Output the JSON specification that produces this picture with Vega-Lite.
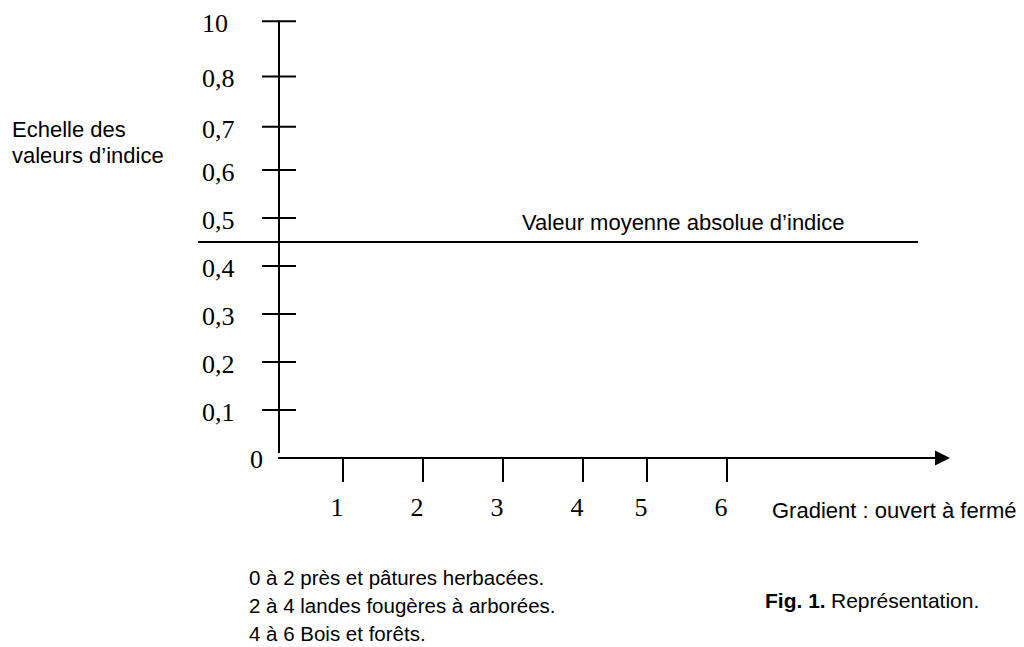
{
  "$schema": "https://vega.github.io/schema/vega-lite/v6.json",
  "width": 1024,
  "height": 647,
  "autosize": "none",
  "padding": 0,
  "background": "white",
  "config": {"view": {"stroke": null}},
  "layer": [
    {
      "data": {"values": [{"x": 0, "y": 0.0104, "y2": 0.9104}]},
      "mark": {"type": "rule", "color": "black", "strokeWidth": 2},
      "encoding": {
        "x": {"field": "x", "type": "quantitative", "scale": {"domain": [-3.4875, 9.3125], "nice": false, "zero": false}, "axis": null},
        "y": {"field": "y", "type": "quantitative", "scale": {"domain": [-0.39375, 0.95417], "nice": false, "zero": false}, "axis": null},
        "y2": {"field": "y2"}
      }
    },
    {
      "data": {"values": [{"x": -0.0125, "x2": 8.2, "y": 0}]},
      "mark": {"type": "rule", "color": "black", "strokeWidth": 2},
      "encoding": {
        "x": {"field": "x", "type": "quantitative", "scale": {"domain": [-3.4875, 9.3125], "nice": false, "zero": false}, "axis": null},
        "x2": {"field": "x2"},
        "y": {"field": "y", "type": "quantitative", "scale": {"domain": [-0.39375, 0.95417], "nice": false, "zero": false}, "axis": null}
      }
    },
    {
      "data": {"values": [{"x": 8.29375, "y": 0}]},
      "mark": {"type": "point", "shape": "M-1,-1L1,0L-1,1Z", "size": 225, "filled": true, "color": "black", "opacity": 1, "strokeWidth": 0},
      "encoding": {
        "x": {"field": "x", "type": "quantitative", "scale": {"domain": [-3.4875, 9.3125], "nice": false, "zero": false}, "axis": null},
        "y": {"field": "y", "type": "quantitative", "scale": {"domain": [-0.39375, 0.95417], "nice": false, "zero": false}, "axis": null}
      }
    },
    {
      "data": {"values": [{"x": -1.0125, "x2": 7.9875, "y": 0.45}]},
      "mark": {"type": "rule", "color": "black", "strokeWidth": 2},
      "encoding": {
        "x": {"field": "x", "type": "quantitative", "scale": {"domain": [-3.4875, 9.3125], "nice": false, "zero": false}, "axis": null},
        "x2": {"field": "x2"},
        "y": {"field": "y", "type": "quantitative", "scale": {"domain": [-0.39375, 0.95417], "nice": false, "zero": false}, "axis": null}
      }
    },
    {
      "data": {"values": [
        {"v": 0.1, "label": "0,1"},
        {"v": 0.2, "label": "0,2"},
        {"v": 0.3, "label": "0,3"},
        {"v": 0.4, "label": "0,4"},
        {"v": 0.5, "label": "0,5"},
        {"v": 0.6, "label": "0,6"},
        {"v": 0.69, "label": "0,7"},
        {"v": 0.795, "label": "0,8"},
        {"v": 0.91, "label": "10"}
      ]},
      "layer": [
        {
          "mark": {"type": "rule", "color": "black", "strokeWidth": 2},
          "encoding": {
            "x": {"datum": -0.2125, "type": "quantitative", "scale": {"domain": [-3.4875, 9.3125], "nice": false, "zero": false}, "axis": null},
            "x2": {"datum": 0.2125},
            "y": {"field": "v", "type": "quantitative", "scale": {"domain": [-0.39375, 0.95417], "nice": false, "zero": false}, "axis": null}
          }
        },
        {
          "mark": {"type": "text", "font": "Liberation Serif", "fontSize": 26, "color": "black", "align": "left", "baseline": "alphabetic", "dy": 11},
          "encoding": {
            "x": {"datum": -0.9625, "type": "quantitative", "scale": {"domain": [-3.4875, 9.3125], "nice": false, "zero": false}, "axis": null},
            "y": {"field": "v", "type": "quantitative", "scale": {"domain": [-0.39375, 0.95417], "nice": false, "zero": false}, "axis": null},
            "text": {"field": "label"}
          }
        }
      ]
    },
    {
      "data": {"values": [{"x": -0.3625, "y": 0, "label": "0"}]},
      "mark": {"type": "text", "font": "Liberation Serif", "fontSize": 26, "color": "black", "align": "left", "baseline": "alphabetic", "dy": 10},
      "encoding": {
        "x": {"field": "x", "type": "quantitative", "scale": {"domain": [-3.4875, 9.3125], "nice": false, "zero": false}, "axis": null},
        "y": {"field": "y", "type": "quantitative", "scale": {"domain": [-0.39375, 0.95417], "nice": false, "zero": false}, "axis": null},
        "text": {"field": "label"}
      }
    },
    {
      "data": {"values": [
        {"g": 0.8, "label": "1"},
        {"g": 1.8, "label": "2"},
        {"g": 2.8, "label": "3"},
        {"g": 3.8, "label": "4"},
        {"g": 4.6, "label": "5"},
        {"g": 5.6, "label": "6"}
      ]},
      "layer": [
        {
          "mark": {"type": "rule", "color": "black", "strokeWidth": 2},
          "encoding": {
            "x": {"field": "g", "type": "quantitative", "scale": {"domain": [-3.4875, 9.3125], "nice": false, "zero": false}, "axis": null},
            "y": {"datum": 0, "type": "quantitative", "scale": {"domain": [-0.39375, 0.95417], "nice": false, "zero": false}, "axis": null},
            "y2": {"datum": -0.05}
          }
        },
        {
          "mark": {"type": "text", "font": "Liberation Serif", "fontSize": 26, "color": "black", "align": "center", "baseline": "alphabetic", "dx": -6},
          "encoding": {
            "x": {"field": "g", "type": "quantitative", "scale": {"domain": [-3.4875, 9.3125], "nice": false, "zero": false}, "axis": null},
            "y": {"datum": -0.1208, "type": "quantitative", "scale": {"domain": [-0.39375, 0.95417], "nice": false, "zero": false}, "axis": null},
            "text": {"field": "label"}
          }
        }
      ]
    },
    {
      "data": {"values": [
        {"x": -3.3375, "y": 0.66875, "text": "Echelle des"},
        {"x": -3.3375, "y": 0.6146, "text": "valeurs d’indice"},
        {"x": 3.0375, "y": 0.475, "text": "Valeur moyenne absolue d’indice"},
        {"x": 6.1625, "y": -0.125, "text": "Gradient : ouvert à fermé"}
      ]},
      "mark": {"type": "text", "font": "Liberation Sans, Arial, sans-serif", "fontSize": 22, "color": "black", "align": "left", "baseline": "alphabetic"},
      "encoding": {
        "x": {"field": "x", "type": "quantitative", "scale": {"domain": [-3.4875, 9.3125], "nice": false, "zero": false}, "axis": null},
        "y": {"field": "y", "type": "quantitative", "scale": {"domain": [-0.39375, 0.95417], "nice": false, "zero": false}, "axis": null},
        "text": {"field": "text"}
      }
    },
    {
      "data": {"values": [
        {"x": -0.375, "y": -0.2646, "text": "0 à 2 près et pâtures herbacées."},
        {"x": -0.375, "y": -0.3229, "text": "2 à 4 landes fougères à arborées."},
        {"x": -0.375, "y": -0.38125, "text": "4 à 6 Bois et forêts."}
      ]},
      "mark": {"type": "text", "font": "Liberation Sans, Arial, sans-serif", "fontSize": 20.5, "color": "black", "align": "left", "baseline": "alphabetic"},
      "encoding": {
        "x": {"field": "x", "type": "quantitative", "scale": {"domain": [-3.4875, 9.3125], "nice": false, "zero": false}, "axis": null},
        "y": {"field": "y", "type": "quantitative", "scale": {"domain": [-0.39375, 0.95417], "nice": false, "zero": false}, "axis": null},
        "text": {"field": "text"}
      }
    },
    {
      "data": {"values": [{"x": 6.9, "y": -0.3125, "text": "Représentation."}]},
      "mark": {"type": "text", "font": "Liberation Sans, Arial, sans-serif", "fontSize": 21, "color": "black", "align": "left", "baseline": "alphabetic"},
      "encoding": {
        "x": {"field": "x", "type": "quantitative", "scale": {"domain": [-3.4875, 9.3125], "nice": false, "zero": false}, "axis": null},
        "y": {"field": "y", "type": "quantitative", "scale": {"domain": [-0.39375, 0.95417], "nice": false, "zero": false}, "axis": null},
        "text": {"field": "text"}
      }
    },
    {
      "data": {"values": [{"x": 6.075, "y": -0.3125, "text": "Fig. 1."}]},
      "mark": {"type": "text", "font": "Liberation Sans, Arial, sans-serif", "fontSize": 21, "fontWeight": "bold", "color": "black", "align": "left", "baseline": "alphabetic"},
      "encoding": {
        "x": {"field": "x", "type": "quantitative", "scale": {"domain": [-3.4875, 9.3125], "nice": false, "zero": false}, "axis": null},
        "y": {"field": "y", "type": "quantitative", "scale": {"domain": [-0.39375, 0.95417], "nice": false, "zero": false}, "axis": null},
        "text": {"field": "text"}
      }
    }
  ]
}
